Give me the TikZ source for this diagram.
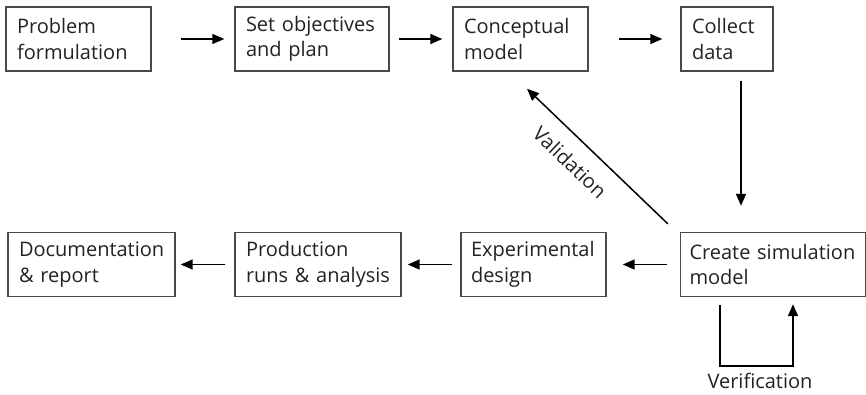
\documentclass[tikz,border=0pt]{standalone}
\usepackage{fontspec}
\setmainfont{Open Sans}
\usetikzlibrary{arrows.meta,calc}
\definecolor{ink}{HTML}{222222}
\definecolor{edge}{HTML}{4A4A4A}
\tikzset{
  stepbox/.style={draw=edge, line width=1.4pt, text=ink, align=left,
    inner xsep=11pt, inner ysep=0pt, minimum height=64pt,
    font=\fontsize{20}{25.5}\selectfont},
  flow/.style={draw=black, line width=1.5pt,
    -{Triangle[length=12pt,width=10pt]}},
  lbl/.style={text=ink, font=\fontsize{20}{25.5}\selectfont, inner sep=0pt}
}
\begin{document}
\begin{tikzpicture}[x=1pt,y=1pt]
\useasboundingbox (0,0) rectangle (866,-395);
% top row
\node[stepbox, text width=123pt] (p)  at (78.5,-39)  {Problem\\formulation};
\node[stepbox, text width=132pt] (o)  at (312,-39)   {Set objectives\\and plan};
\node[stepbox, text width=113pt] (c)  at (520.5,-39) {Conceptual\\model};
\node[stepbox, text width=70pt]  (d)  at (727,-39)   {Collect\\data};
% bottom row
\node[stepbox, inner xsep=9pt, text width=167pt] (s) at (773,-264.5)
  {Create simulation\\model};
\node[stepbox, inner xsep=10pt, text width=125pt] (e) at (533.5,-264.5)
  {Experimental\\design};
\node[stepbox, text width=144pt] (r)  at (318,-264.5) {Production\\runs \& analysis};
\node[stepbox, text width=145pt] (dr) at (91.5,-264.5) {Documentation\\\& report};
% forward flow along the top
\draw[flow, shorten <=29pt, shorten >=10pt] (p) -- (o);
\draw[flow, shorten <=9pt, shorten >=10pt] (o) -- (c);
\draw[flow, shorten <=30pt, shorten >=18pt] (c) -- (d);
% down to the simulation model
\draw[flow, shorten <=9pt, shorten >=26pt]
  ([xshift=14pt]d.south) -- ([xshift=14pt]d.south |- s.north);
% back along the bottom
\draw[flow, shorten <=13pt, shorten >=16pt] (s) -- (e);
\draw[flow, shorten <=8pt, shorten >=6pt] (e) -- (r);
\draw[flow, shorten <=9pt, shorten >=5pt] (r) -- (dr);
% validation feedback
\coordinate (vs) at ($(s.north west)+(-12,8)$);
\coordinate (ve) at ($(c.south)+(6.5,-17)$);
\draw[flow] (vs) -- (ve)
  node[lbl, pos=0.58, sloped, below=15pt] (vl) {Validation};
% verification loop
\coordinate (va) at ([xshift=-53pt,yshift=-8pt]s.south);
\coordinate (vb) at ([xshift=20pt,yshift=-7pt]s.south);
\draw[flow] (va) -- ++(0,-61) coordinate (vc) -| (vb);
\node[lbl, anchor=base] (vt) at (760,-388) {Verification};
\end{tikzpicture}
\end{document}
